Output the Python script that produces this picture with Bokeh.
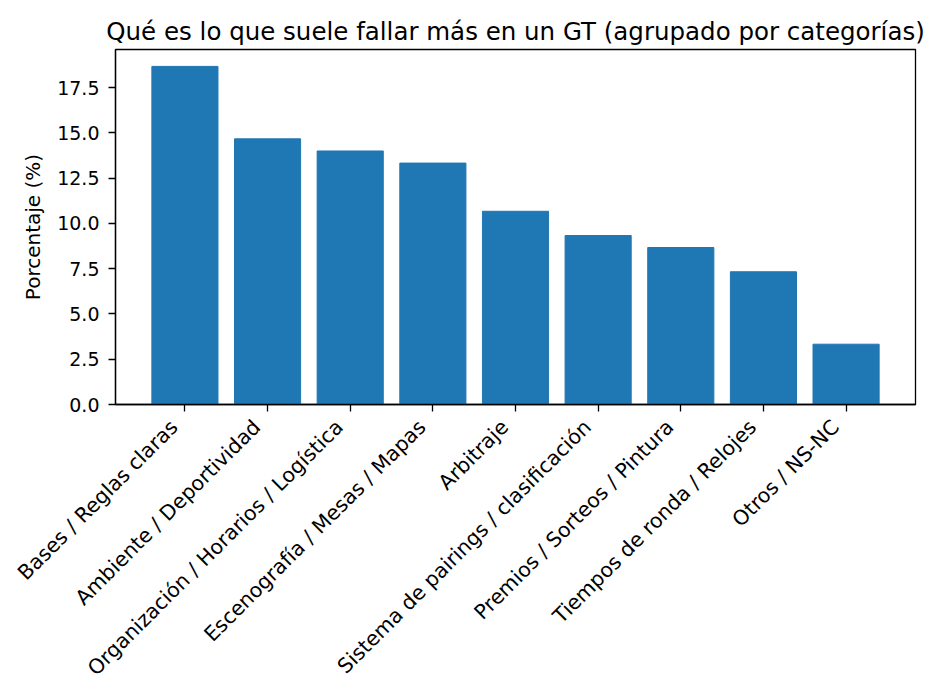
import math
from bokeh.plotting import figure
from bokeh.models import Range1d, FixedTicker, NumeralTickFormatter, LinearAxis, CustomJSTickFormatter
from bokeh.embed import file_html
from bokeh.resources import INLINE

categories = [
    "Bases / Reglas claras",
    "Ambiente / Deportividad",
    "Organización / Horarios / Logística",
    "Escenografía / Mesas / Mapas",
    "Arbitraje",
    "Sistema de pairings / clasificación",
    "Premios / Sorteos / Pintura",
    "Tiempos de ronda / Relojes",
    "Otros / NS-NC",
]
values = [18.67, 14.67, 14.0, 13.33, 10.67, 9.33, 8.67, 7.33, 3.33]
y_ticks = [0.0, 2.5, 5.0, 7.5, 10.0, 12.5, 15.0, 17.5]

xs = list(range(len(categories)))
ymax = max(values) * 1.05
label_shift = -0.13  # horizontal nudge of rotated labels (data units)

p = figure(
    output_backend="svg", toolbar_location=None,
    frame_width=800, frame_height=355,
    x_range=Range1d(-0.84, len(categories) - 1 + 0.84),
    y_range=Range1d(0, ymax),
    title="Qué es lo que suele fallar más en un GT (agrupado por categorías)",
    min_border_left=115, min_border_right=16, min_border_top=49,
)

p.vbar(x=xs, top=values, width=0.8, fill_color="#1f77b4", line_color="#1f77b4")

p.title.align = "center"
p.title.text_font = "DejaVu Sans"
p.title.text_font_size = "24.5px"
p.title.text_font_style = "normal"
p.title.text_color = "black"
p.title.standoff = 8

p.xgrid.visible = False
p.ygrid.visible = False
p.outline_line_color = "black"
p.outline_line_width = 1.3
p.outline_line_alpha = 1.0

for ax in (p.xaxis[0], p.yaxis[0]):
    ax.axis_line_color = "black"
    ax.axis_line_width = 1.3
    ax.major_tick_line_color = "black"
    ax.major_tick_line_width = 1.3
    ax.major_tick_in = 0
    ax.major_tick_out = 7
    ax.minor_tick_line_color = None
    ax.major_label_text_font = "DejaVu Sans"
    ax.major_label_text_color = "black"

# main x axis: ticks only
p.xaxis[0].ticker = FixedTicker(ticks=xs)
p.xaxis[0].formatter = CustomJSTickFormatter(code="return '';")
p.xaxis[0].major_label_standoff = 0
p.xaxis[0].major_label_text_font_size = "1px"

# label axis: rotated category labels, anchored like matplotlib ha='right'
lab_ax = LinearAxis(
    ticker=FixedTicker(ticks=[x + label_shift for x in xs]),
    formatter=CustomJSTickFormatter(
        args=dict(labels=categories, shift=label_shift),
        code="const i = Math.round(tick - shift); return (i >= 0 && i < labels.length) ? labels[i] : '';",
    ),
    axis_line_color=None,
    major_tick_line_color=None,
    minor_tick_line_color=None,
    major_tick_in=0, major_tick_out=0,
    major_label_orientation=math.pi / 4,
    major_label_text_font="DejaVu Sans",
    major_label_text_font_size="20.5px",
    major_label_text_color="black",
    major_label_standoff=12,
)
p.add_layout(lab_ax, "below")

p.yaxis.ticker = FixedTicker(ticks=y_ticks)
p.yaxis.formatter = NumeralTickFormatter(format="0.0")
p.yaxis.major_label_text_font_size = "19px"
p.yaxis.major_label_standoff = 9
p.yaxis.axis_label = "Porcentaje (%)"
p.yaxis.axis_label_text_font = "DejaVu Sans"
p.yaxis.axis_label_text_font_size = "20px"
p.yaxis.axis_label_text_font_style = "normal"
p.yaxis.axis_label_text_color = "black"
p.yaxis.axis_label_standoff = 9

open("out.html", "w").write(file_html(p, INLINE))
